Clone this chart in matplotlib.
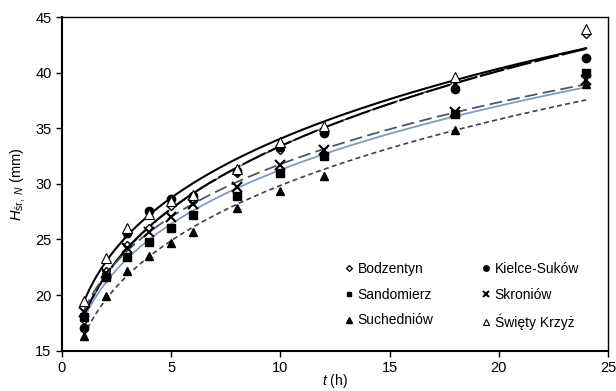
import numpy as np
import matplotlib
matplotlib.use("Agg")
import matplotlib.pyplot as plt

plt.rcParams['font.family'] = ['Liberation Sans', 'DejaVu Sans']
plt.rcParams['mathtext.fontset'] = 'custom'
plt.rcParams['mathtext.rm'] = 'Liberation Sans'
plt.rcParams['mathtext.it'] = 'Liberation Sans:italic'

t = [1, 2, 3, 4, 5, 6, 8, 10, 12, 18, 24]

bodzentyn = [17.8, 22.2, 24.5, 26.0, 28.0, 28.5, 31.0, 33.0, 34.8, 38.7, 43.5]
kielce = [17.0, 21.6, 25.6, 27.6, 28.6, 28.9, 31.2, 33.3, 34.6, 38.5, 41.3]
sandomierz = [18.0, 21.6, 23.4, 24.8, 26.0, 27.2, 28.9, 31.0, 32.5, 36.3, 40.0]
skroniow = [18.5, 22.0, 24.2, 25.7, 27.0, 28.2, 29.7, 31.7, 33.0, 36.5, 39.3]
suchedniow = [16.3, 19.9, 22.2, 23.5, 24.7, 25.7, 27.8, 29.4, 30.7, 34.8, 39.0]
swiety = [19.5, 23.3, 26.0, 27.3, 28.5, 29.0, 31.3, 33.8, 35.2, 39.6, 43.9]


def power_fit(x, y):
    # Excel-style power trendline y = a * x^b
    b, ln_a = np.polyfit(np.log(x), np.log(y), 1)
    xs = np.linspace(min(x), max(x), 200)
    return xs, np.exp(ln_a) * xs ** b


def main():
    fig = plt.figure(figsize=(6.16, 3.91), dpi=100)
    ax = fig.add_axes([0.1006, 0.103, 0.8864, 0.8535])

    series = [
        ("Bodzentyn", bodzentyn, dict(marker="D", mfc="white", mec="black", ms=4.5),
         dict(color="#333333", lw=1.0, ls=(0, (9, 2, 2, 2)))),
        ("Sandomierz", sandomierz, dict(marker="s", mfc="black", mec="black", ms=5.5),
         dict(color="#7f9cc0", lw=1.3, ls="-")),
        ("Suchedniów", suchedniow, dict(marker="^", mfc="black", mec="black", ms=6),
         dict(color="#404040", lw=1.2, ls=(0, (3, 2)))),
        ("Kielce-Suków", kielce, dict(marker="o", mfc="black", mec="black", ms=6),
         dict(color="black", lw=1.5, ls=(0, (12, 1.5)))),
        ("Skroniów", skroniow, dict(marker="x", mfc="none", mec="black", ms=6.5, mew=1.5),
         dict(color="#555555", lw=1.3, ls=(0, (7, 3)))),
        ("Święty Krzyż", swiety, dict(marker="^", mfc="white", mec="black", ms=6.5, mew=0.8),
         dict(color="black", lw=1.5, ls="-")),
    ]

    for name, vals, mstyle, lstyle in series:
        xs, ys = power_fit(t, vals)
        ax.plot(xs, ys, zorder=2, **lstyle)
    for name, vals, mstyle, lstyle in series:
        ax.plot(t, vals, ls="none", label=name, zorder=3, **mstyle)

    ax.set_xlim(0, 25)
    ax.set_ylim(15, 45)
    ax.set_xticks([0, 5, 10, 15, 20, 25])
    ax.set_yticks([15, 20, 25, 30, 35, 40, 45])
    ax.tick_params(labelsize=10.5, direction="out", length=4, width=1)
    for side in ["left", "bottom"]:
        ax.spines[side].set_linewidth(1.5)
    for side in ["top", "right"]:
        ax.spines[side].set_linewidth(1.0)

    ax.set_xlabel(r"$t$ (h)", fontsize=10, labelpad=-2)
    ax.set_ylabel(r"$H_{\mathrm{śr,}\ N}$ (mm)", fontsize=10.5, labelpad=6)

    ax.legend(ncol=2, loc="lower right", bbox_to_anchor=(0.97, 0.025), frameon=False,
              fontsize=10, handlelength=0.6, handletextpad=0.3, columnspacing=3.5,
              labelspacing=0.85, markerscale=0.65)

    fig.savefig("out.png", dpi=100)


if __name__ == '__main__':
    main()
